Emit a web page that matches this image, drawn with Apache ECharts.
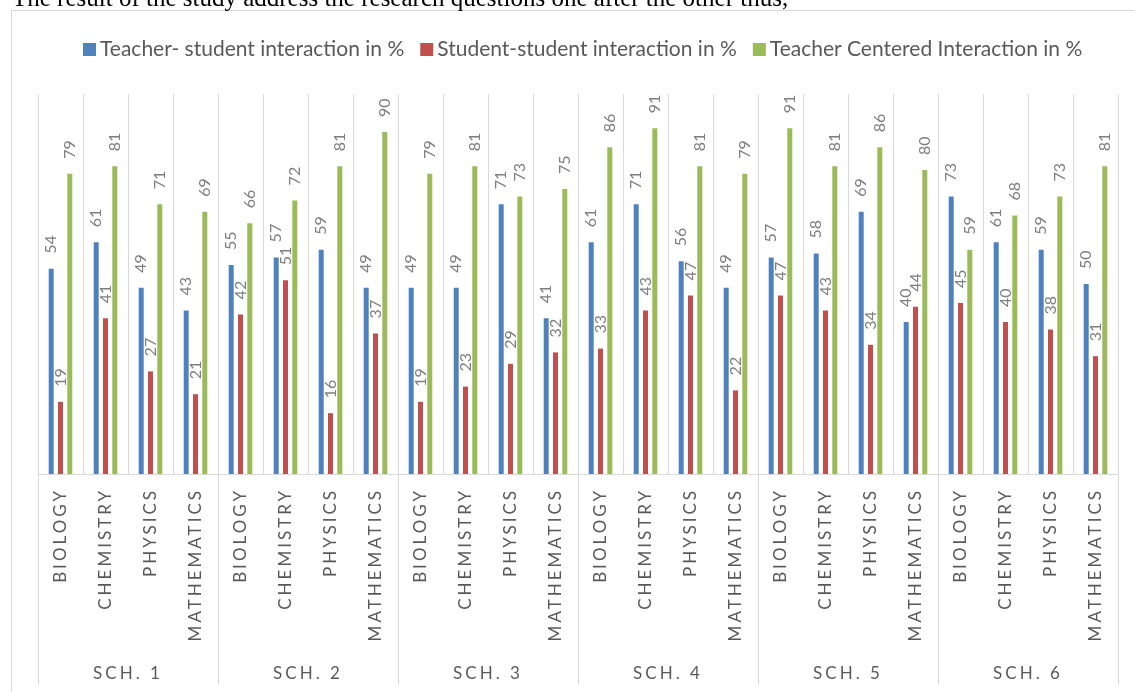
<!DOCTYPE html>
<html>
<head>
<meta charset="utf-8">
<script src="https://cdn.jsdelivr.net/npm/echarts@6/dist/echarts.min.js"></script>
<style>
  html, body { margin: 0; padding: 0; background: #ffffff; overflow: hidden; }
  #frame { position: absolute; left: 11px; top: 10px; width: 1200px; height: 800px; border: 1px solid #d9d9d9; box-sizing: border-box; }
  #chart { position: absolute; left: 0; top: 0; width: 1135px; height: 692px; }
</style>
</head>
<body>
<div id="frame"></div>
<div id="chart"></div>
<script>
// ---- data ----
const introText = 'The result of the study address the research questions one after the other thus,';
const schools = ['SCH. 1', 'SCH. 2', 'SCH. 3', 'SCH. 4', 'SCH. 5', 'SCH. 6'];
const subjects = ['BIOLOGY', 'CHEMISTRY', 'PHYSICS', 'MATHEMATICS'];
const seriesNames = ['Teacher- student interaction in %', 'Student-student interaction in %', 'Teacher Centered Interaction in %'];
const teacherStudent = [54, 61, 49, 43, 55, 57, 59, 49, 49, 49, 71, 41, 61, 71, 56, 49, 57, 58, 69, 40, 73, 61, 59, 50];
const studentStudent = [19, 41, 27, 21, 42, 51, 16, 37, 19, 23, 29, 32, 33, 43, 47, 22, 47, 43, 34, 44, 45, 40, 38, 31];
const teacherCentered = [79, 81, 71, 69, 66, 72, 81, 90, 79, 81, 73, 75, 86, 91, 81, 79, 91, 81, 86, 80, 59, 68, 73, 81];

// letter-spaced axis text (as in the original Office chart); all other text unspaced
(function () {
  const proto = CanvasRenderingContext2D.prototype;
  const orig = proto.fillText;
  proto.fillText = function () {
    const spaced = /(^|\s)17px/.test(this.font) && /Lato/.test(this.font);
    this.letterSpacing = spaced ? '3px' : '0px';
    const r = orig.apply(this, arguments);
    this.letterSpacing = '0px';
    return r;
  };
})();

const categories = [];
schools.forEach(() => subjects.forEach(s => categories.push(s)));

const colors = ['#4f81bd', '#c0504d', '#9bbb59'];
const values = [teacherStudent, studentStudent, teacherCentered];

const chart = echarts.init(document.getElementById('chart'), null, { renderer: 'canvas' });

const labelStyle = {
  show: true,
  position: 'top',
  rotate: 90,
  align: 'left',
  verticalAlign: 'middle',
  distance: 15,
  fontFamily: 'Lato',
  fontSize: 16,
  color: '#7f7f7f'
};

chart.setOption({
  animation: false,
  backgroundColor: 'transparent',
  title: {
    text: introText,
    left: 12,
    top: -13,
    padding: 0,
    textStyle: { fontFamily: 'Liberation Serif', fontSize: 25, fontWeight: 'normal', color: '#000000' }
  },
  legend: {
    left: 83,
    top: 39,
    itemWidth: 13,
    itemHeight: 13,
    itemGap: 16,
    icon: 'rect',
    padding: 0,
    textStyle: { fontFamily: 'Lato', fontSize: 21, color: '#595959', padding: [0, 0, 0, -1] },
    data: seriesNames
  },
  grid: { left: 38, right: 17, top: 94, bottom: 218, containLabel: false },
  xAxis: [
    {
      type: 'category',
      data: categories,
      position: 'bottom',
      axisLine: { show: true, lineStyle: { color: '#d9d9d9', width: 1 } },
      axisTick: { show: false },
      splitLine: { show: true, interval: 0, lineStyle: { color: '#d9d9d9', width: 1 } },
      axisLabel: { interval: 0, rotate: 90, margin: 14, fontFamily: 'Lato', fontSize: 17, color: '#595959' }
    },
    {
      type: 'category',
      data: schools,
      position: 'bottom',
      axisLine: { show: false },
      axisTick: { show: true, interval: 0, length: 211, lineStyle: { color: '#d9d9d9', width: 1 } },
      splitLine: { show: false },
      axisLabel: { interval: 0, margin: 191, fontFamily: 'Lato', fontSize: 17, color: '#595959' }
    }
  ],
  yAxis: {
    type: 'value',
    min: 0,
    max: 100,
    show: false,
    splitLine: { show: false }
  },
  series: seriesNames.map((name, i) => ({
    name: name,
    type: 'bar',
    xAxisIndex: 0,
    data: values[i],
    barWidth: 5,
    barGap: '86%',
    itemStyle: { color: colors[i] },
    label: labelStyle
  }))
});
</script>
</body>
</html>
